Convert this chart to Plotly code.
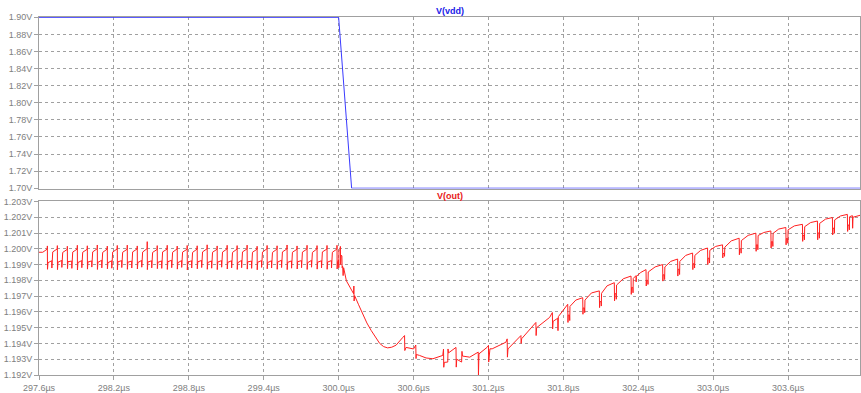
import plotly.graph_objects as go

# ---------------- data (µs, V) ----------------
vdd_t = [297.6, 300.0, 300.104, 304.176]
vdd_v = [1.90, 1.90, 1.70, 1.70]

ripple_t = [
    297.600,
    297.630, 297.666, 297.667, 297.668, 297.672, 297.702, 297.703,
    297.710, 297.746, 297.747, 297.748, 297.752, 297.782, 297.783,
    297.790, 297.826, 297.827, 297.828, 297.832, 297.862, 297.863,
    297.870, 297.906, 297.907, 297.908, 297.912, 297.942, 297.943,
    297.950, 297.986, 297.987, 297.988, 297.992, 298.022, 298.023,
    298.030, 298.066, 298.067, 298.068, 298.072, 298.102, 298.103,
    298.110, 298.146, 298.147, 298.148, 298.152, 298.182, 298.183,
    298.190, 298.226, 298.227, 298.228, 298.232, 298.262, 298.263,
    298.270, 298.306, 298.307, 298.308, 298.312, 298.342, 298.343,
    298.350, 298.386, 298.387, 298.388, 298.392, 298.422, 298.423,
    298.430, 298.466, 298.467, 298.468, 298.472, 298.502, 298.503,
    298.510, 298.546, 298.547, 298.548, 298.552, 298.582, 298.583,
    298.590, 298.626, 298.627, 298.628, 298.632, 298.662, 298.663,
    298.670, 298.706, 298.707, 298.708, 298.712, 298.742, 298.743,
    298.750, 298.786, 298.787, 298.788, 298.792, 298.822, 298.823,
    298.830, 298.866, 298.867, 298.868, 298.872, 298.902, 298.903,
    298.910, 298.946, 298.947, 298.948, 298.952, 298.982, 298.983,
    298.990, 299.026, 299.027, 299.028, 299.032, 299.062, 299.063,
    299.070, 299.106, 299.107, 299.108, 299.112, 299.142, 299.143,
    299.150, 299.186, 299.187, 299.188, 299.192, 299.222, 299.223,
    299.230, 299.266, 299.267, 299.268, 299.272, 299.302, 299.303,
    299.310, 299.346, 299.347, 299.348, 299.352, 299.382, 299.383,
    299.390, 299.426, 299.427, 299.428, 299.432, 299.462, 299.463,
    299.470, 299.506, 299.507, 299.508, 299.512, 299.542, 299.543,
    299.550, 299.586, 299.587, 299.588, 299.592, 299.622, 299.623,
    299.630, 299.666, 299.667, 299.668, 299.672, 299.702, 299.703,
    299.710, 299.746, 299.747, 299.748, 299.752, 299.782, 299.783,
    299.790, 299.826, 299.827, 299.828, 299.832, 299.862, 299.863,
    299.870, 299.906, 299.907, 299.908, 299.912, 299.942, 299.943,
    299.950, 299.986, 299.987, 299.988, 299.992,
]
ripple_v = [
    1.19978,
    1.19978, 1.19998, 1.20018, 1.19870, 1.19912, 1.19924, 1.19878,
    1.19980, 1.19999, 1.20020, 1.19868, 1.19915, 1.19926, 1.19882,
    1.19977, 1.19996, 1.20016, 1.19874, 1.19918, 1.19922, 1.19876,
    1.19979, 1.19998, 1.20022, 1.19866, 1.19913, 1.19925, 1.19880,
    1.19978, 1.19997, 1.20019, 1.19871, 1.19916, 1.19923, 1.19884,
    1.19980, 1.20000, 1.20024, 1.19869, 1.19914, 1.19927, 1.19879,
    1.19977, 1.19998, 1.20017, 1.19873, 1.19912, 1.19924, 1.19877,
    1.19979, 1.19999, 1.20021, 1.19867, 1.19917, 1.19925, 1.19881,
    1.19978, 1.19997, 1.20023, 1.19870, 1.19915, 1.19922, 1.19878,
    1.19980, 1.19999, 1.20018, 1.19872, 1.19913, 1.19926, 1.19883,
    1.19979, 1.20001, 1.20045, 1.19868, 1.19916, 1.19924, 1.19879,
    1.19977, 1.19996, 1.20020, 1.19874, 1.19914, 1.19923, 1.19876,
    1.19980, 1.19998, 1.20022, 1.19869, 1.19918, 1.19927, 1.19880,
    1.19978, 1.19999, 1.20017, 1.19871, 1.19912, 1.19925, 1.19882,
    1.19979, 1.19997, 1.20021, 1.19866, 1.19915, 1.19924, 1.19878,
    1.19977, 1.19998, 1.20019, 1.19873, 1.19917, 1.19926, 1.19881,
    1.19980, 1.20000, 1.20025, 1.19870, 1.19913, 1.19923, 1.19877,
    1.19978, 1.19997, 1.20018, 1.19868, 1.19916, 1.19925, 1.19883,
    1.19979, 1.19999, 1.20022, 1.19872, 1.19914, 1.19924, 1.19879,
    1.19977, 1.19998, 1.20020, 1.19869, 1.19912, 1.19926, 1.19880,
    1.19980, 1.19999, 1.20023, 1.19871, 1.19917, 1.19922, 1.19876,
    1.19978, 1.19997, 1.20016, 1.19867, 1.19915, 1.19925, 1.19882,
    1.19979, 1.20000, 1.20021, 1.19873, 1.19913, 1.19924, 1.19878,
    1.19977, 1.19998, 1.20019, 1.19870, 1.19916, 1.19927, 1.19881,
    1.19980, 1.19999, 1.20024, 1.19868, 1.19914, 1.19923, 1.19877,
    1.19978, 1.19997, 1.20018, 1.19872, 1.19918, 1.19925, 1.19880,
    1.19979, 1.19998, 1.20022, 1.19869, 1.19912, 1.19926, 1.19883,
    1.19977, 1.19999, 1.20020, 1.19871, 1.19915, 1.19924, 1.19879,
    1.19980, 1.19998, 1.20021, 1.19870, 1.19916, 1.19925, 1.19878,
    1.19978, 1.19998, 1.20022, 1.19872, 1.19920,
]

dip_t = [
    300.000, 300.001, 300.003, 300.012, 300.014, 300.016, 300.020, 300.026, 300.028,
    300.032, 300.036, 300.040, 300.062, 300.080, 300.100,
    300.120, 300.122, 300.124, 300.128, 300.160, 300.192, 300.226, 300.260,
    300.295, 300.328, 300.360, 300.392, 300.425, 300.460,
    300.515, 300.528, 300.530, 300.540, 300.600,
    300.618, 300.620, 300.622, 300.648, 300.700,
    300.755, 300.834, 300.840, 300.842, 300.846,
    300.874, 300.876, 300.880, 300.940, 300.942,
    300.946, 300.985, 300.988, 300.992, 301.050,
    301.118, 301.120, 301.124, 301.190, 301.200,
    301.202, 301.206, 301.212, 301.230, 301.340,
    301.350, 301.352, 301.356, 301.362, 301.460,
    301.462, 301.466, 301.580, 301.582, 301.586,
    301.690, 301.712, 301.714, 301.718, 301.755,
    301.757, 301.760,
]
dip_v = [
    1.19930, 1.19880, 1.19990, 1.19995, 1.20015, 1.19900, 1.19960, 1.19955, 1.19880,
    1.19890, 1.19830, 1.19880, 1.19797, 1.19770, 1.19745,
    1.19715, 1.19764, 1.19669, 1.19703, 1.19645, 1.19585, 1.19530, 1.19483,
    1.19437, 1.19401, 1.19380, 1.19372, 1.19376, 1.19389,
    1.19439, 1.19450, 1.19355, 1.19375, 1.19365,
    1.19390, 1.19304, 1.19330, 1.19324, 1.19308,
    1.19303, 1.19324, 1.19364, 1.19249, 1.19280,
    1.19282, 1.19365, 1.19340, 1.19375, 1.19250,
    1.19300, 1.19282, 1.19350, 1.19320, 1.19313,
    1.19345, 1.19200, 1.19334, 1.19376, 1.19387,
    1.19282, 1.19320, 1.19366, 1.19366, 1.19408,
    1.19429, 1.19313, 1.19360, 1.19370, 1.19450,
    1.19400, 1.19430, 1.19533, 1.19450, 1.19500,
    1.19565, 1.19596, 1.19492, 1.19540, 1.19560,
    1.19481, 1.19570,
]

rise_t = [
    301.835, 301.837, 301.839, 301.849, 301.851, 301.853, 301.900,
    301.955, 301.957, 301.959, 301.969, 301.971, 301.973, 302.025,
    302.088, 302.090, 302.092, 302.102, 302.104, 302.106, 302.150,
    302.208, 302.210, 302.212, 302.222, 302.224, 302.226, 302.280,
    302.342, 302.344, 302.346, 302.356, 302.358, 302.360, 302.382, 302.383, 302.385, 302.420,
    302.462, 302.464, 302.466, 302.476, 302.478, 302.480, 302.535,
    302.595, 302.597, 302.599, 302.609, 302.611, 302.613, 302.660,
    302.715, 302.717, 302.719, 302.729, 302.731, 302.733, 302.780,
    302.835, 302.837, 302.839, 302.849, 302.851, 302.853, 302.900,
    302.955, 302.957, 302.959, 302.969, 302.971, 302.973, 303.020,
    303.075, 303.077, 303.079, 303.089, 303.091, 303.093, 303.145,
    303.208, 303.210, 303.212, 303.222, 303.224, 303.226, 303.280,
    303.342, 303.344, 303.346, 303.356, 303.358, 303.360, 303.405,
    303.462, 303.464, 303.466, 303.476, 303.478, 303.480, 303.525,
    303.582, 303.584, 303.586, 303.596, 303.598, 303.600, 303.650,
    303.715, 303.717, 303.719, 303.729, 303.731, 303.733, 303.780,
    303.835, 303.837, 303.839, 303.849, 303.851, 303.853, 303.900,
    303.955, 303.957, 303.959, 303.969, 303.971, 303.973, 304.020,
    304.075, 304.077, 304.079, 304.089, 304.091, 304.093, 304.115, 304.117, 304.120, 304.176,
]
rise_v = [
    1.19648, 1.19533, 1.19580, 1.19580, 1.19545, 1.19635, 1.19675,
    1.19690, 1.19585, 1.19625, 1.19625, 1.19595, 1.19675, 1.19720,
    1.19733, 1.19627, 1.19665, 1.19665, 1.19637, 1.19718, 1.19765,
    1.19785, 1.19670, 1.19715, 1.19715, 1.19680, 1.19770, 1.19810,
    1.19827, 1.19711, 1.19755, 1.19755, 1.19721, 1.19812, 1.19830, 1.19790, 1.19825, 1.19850,
    1.19868, 1.19764, 1.19800, 1.19800, 1.19774, 1.19853, 1.19885,
    1.19900, 1.19795, 1.19835, 1.19835, 1.19805, 1.19885, 1.19920,
    1.19935, 1.19827, 1.19870, 1.19870, 1.19837, 1.19920, 1.19958,
    1.19973, 1.19868, 1.19905, 1.19905, 1.19878, 1.19958, 1.19990,
    1.20005, 1.19900, 1.19940, 1.19940, 1.19910, 1.19990, 1.20015,
    1.20025, 1.19942, 1.19970, 1.19970, 1.19952, 1.20010, 1.20050,
    1.20067, 1.19962, 1.20000, 1.20000, 1.19972, 1.20052, 1.20085,
    1.20099, 1.19984, 1.20025, 1.20025, 1.19994, 1.20084, 1.20103,
    1.20113, 1.20005, 1.20045, 1.20045, 1.20015, 1.20098, 1.20125,
    1.20135, 1.20025, 1.20065, 1.20065, 1.20035, 1.20120, 1.20145,
    1.20155, 1.20047, 1.20085, 1.20085, 1.20057, 1.20140, 1.20166,
    1.20176, 1.20057, 1.20100, 1.20100, 1.20067, 1.20161, 1.20188,
    1.20198, 1.20088, 1.20130, 1.20130, 1.20098, 1.20183, 1.20208,
    1.20218, 1.20110, 1.20150, 1.20150, 1.20120, 1.20203, 1.20210, 1.20130, 1.20200, 1.20212,
]

out_t = ripple_t + dip_t + rise_t
out_v = ripple_v + dip_v + rise_v

x_range = [297.6, 304.176]

# ---------------- figure ----------------
fig = go.Figure()
fig.add_trace(go.Scatter(x=vdd_t, y=vdd_v, mode="lines",
                         line=dict(color="#3a3aff", width=1),
                         xaxis="x", yaxis="y", hoverinfo="skip"))
fig.add_trace(go.Scatter(x=out_t, y=out_v, mode="lines",
                         line=dict(color="#ff2020", width=1),
                         xaxis="x2", yaxis="y2", hoverinfo="skip"))

tick_font = dict(family="Liberation Sans, Arial, sans-serif", size=9, color="#808080")


def axis(**kw):
    d = dict(showline=True, mirror=True, linecolor="#a0a0a0", linewidth=1,
             showgrid=True, gridcolor="#a0a0a0", griddash="3px,3px", gridwidth=1,
             ticks="outside", ticklen=4, tickcolor="#a0a0a0", tickwidth=1,
             tickfont=tick_font, zeroline=False, fixedrange=True,
             layer="below traces")
    d.update(kw)
    return d


fig.update_layout(
    width=861, height=393,
    margin=dict(l=39, r=0, t=17, b=15),
    paper_bgcolor="white", plot_bgcolor="white",
    showlegend=False,
    xaxis=axis(domain=[0, 1], range=x_range, anchor="y", tick0=297.6, dtick=0.6,
               showticklabels=False, ticks=""),
    yaxis=axis(domain=[0.5208, 1.0], range=[1.6996, 1.9004], anchor="x",
               tick0=1.70, dtick=0.02, tickformat=".2f", ticksuffix="V"),
    xaxis2=axis(domain=[0, 1], range=x_range, anchor="y2", tick0=297.6, dtick=0.6,
                tickformat=".1f", ticksuffix="µs"),
    yaxis2=axis(domain=[0.0, 0.4848], range=[1.192, 1.203], anchor="x2",
                tick0=1.192, dtick=0.001, tickformat=".3f", ticksuffix="V"),
    annotations=[
        dict(text="<b>V(vdd)</b>", x=0.5, y=(378 - 11) / 361, xref="paper", yref="paper",
             xanchor="center", yanchor="middle", showarrow=False,
             font=dict(family="Liberation Sans, Arial, sans-serif", size=9, color="#2020e8")),
        dict(text="<b>V(out)</b>", x=0.5, y=(378 - 197) / 361, xref="paper", yref="paper",
             xanchor="center", yanchor="middle", showarrow=False,
             font=dict(family="Liberation Sans, Arial, sans-serif", size=9, color="#e82020")),
    ],
)

fig.write_html("out.html")
